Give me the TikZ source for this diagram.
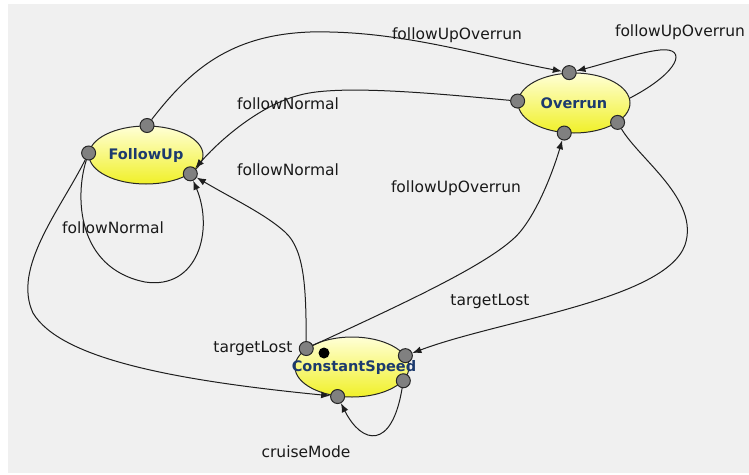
\documentclass[tikz,border=0pt]{standalone}
\usepackage{fontspec}
\setmainfont{DejaVu Sans}
\usetikzlibrary{shapes.geometric,arrows.meta,positioning}
\definecolor{canvas}{RGB}{240,240,240}
\definecolor{statetop}{RGB}{255,255,214}
\definecolor{statebot}{RGB}{240,240,40}
\definecolor{statetext}{RGB}{28,58,110}
\definecolor{portgray}{RGB}{128,128,128}
\definecolor{edgeline}{RGB}{30,30,30}
\tikzstyle{every path}+=[line width=1pt]
\tikzstyle{state}=[ellipse,draw=black!85,top color=statetop,bottom color=statebot,minimum width=114pt,minimum height=58pt,inner sep=0pt]
\tikzstyle{statename}=[inner sep=0pt,font=\fontsize{14.5}{17}\selectfont\bfseries,text=statetext]
\tikzstyle{port}=[circle,draw=black!85,fill=portgray,minimum size=14pt,inner sep=0pt]
\tikzstyle{trans}=[draw=edgeline,-{Latex[length=9pt,width=7pt]}]
\tikzstyle{lbl}=[font=\fontsize{15.5}{18}\selectfont,text=black!90,inner sep=0pt]
\newcommand{\placeports}[2]{
	\foreach \n/\a in {#2}{
		\node[port] (\n) at (#1.\a) {};
	}
}

\begin{document}
\begin{tikzpicture}[x=1pt,y=-1pt]
\useasboundingbox (0,0) rectangle (749,474);
\fill[white] (0,0) rectangle (749,474);
\fill[canvas] (8,4) rectangle (749,473);

\node[state] (fu) at (146,155) {};
\node[state,minimum width=112pt,minimum height=60pt] (ov) at (574,103) {};
\node[state,minimum height=60pt] (cs) at (352,367) {};
\node[statename] (fuName) at (fu) {FollowUp};
\node[statename] (ovName) at (ov) {Overrun};
\node[statename] (csName) at ([xshift=2pt]cs.center) {ConstantSpeed};

\placeports{fu}{fuTop/88,fuLeft/178,fuRight/-23}
\placeports{ov}{ovTop/99,ovLeft/178,ovBottom/252,ovRight/-24}
\placeports{cs}{csLeft/158,csRightA/12,csRightB/-15,csBottom/244}
\fill[black] (324,353) circle (5.5);

% edges
\draw[trans] (fuTop) .. controls (190,70) and (230,35) .. (310,32) .. controls (400,30) and (480,56) .. (ovTop);
\draw[trans] (ovLeft) .. controls (440,94) and (340,84) .. (300,95) .. controls (260,105) and (220,140) .. (fuRight);
\draw[trans] (fuLeft) .. controls (75,195) and (76,268) .. (145,282) .. controls (198,290) and (214,230) .. (fuRight);
\draw[trans] (csLeft) .. controls (306,290) and (305,250) .. (285,232) .. controls (265,214) and (235,200) .. (fuRight);
\draw[trans] (fuLeft) .. controls (60,210) and (12,268) .. (33,313) .. controls (60,358) and (170,380) .. (csBottom);
\draw[trans] (csLeft) .. controls (400,305) and (495,262) .. (520,232) .. controls (540,208) and (555,165) .. (ovBottom);
\draw[trans] (ovRight) .. controls (640,160) and (700,200) .. (685,245) .. controls (665,300) and (500,320) .. (csRightA);
\draw[trans] (ov.5) .. controls (680,72) and (688,47) .. (660,50) .. controls (640,52) and (600,65) .. (ovTop);
\draw[trans] (csRightB) .. controls (392,450) and (362,445) .. (csBottom);

\node[lbl] (l1) at (457,35) {followUpOverrun};
\node[lbl] (l2) at (680,32) {followUpOverrun};
\node[lbl] (l3) at (288,104) {followNormal};
\node[lbl] (l4) at (288,170) {followNormal};
\node[lbl] (l5) at (113,228) {followNormal};
\node[lbl] (l6) at (456,188) {followUpOverrun};
\node[lbl] (l7) at (490,301) {targetLost};
\node[lbl] (l8) at (253,348) {targetLost};
\node[lbl] (l9) at (306,452) {cruiseMode};
\end{tikzpicture}
\end{document}
